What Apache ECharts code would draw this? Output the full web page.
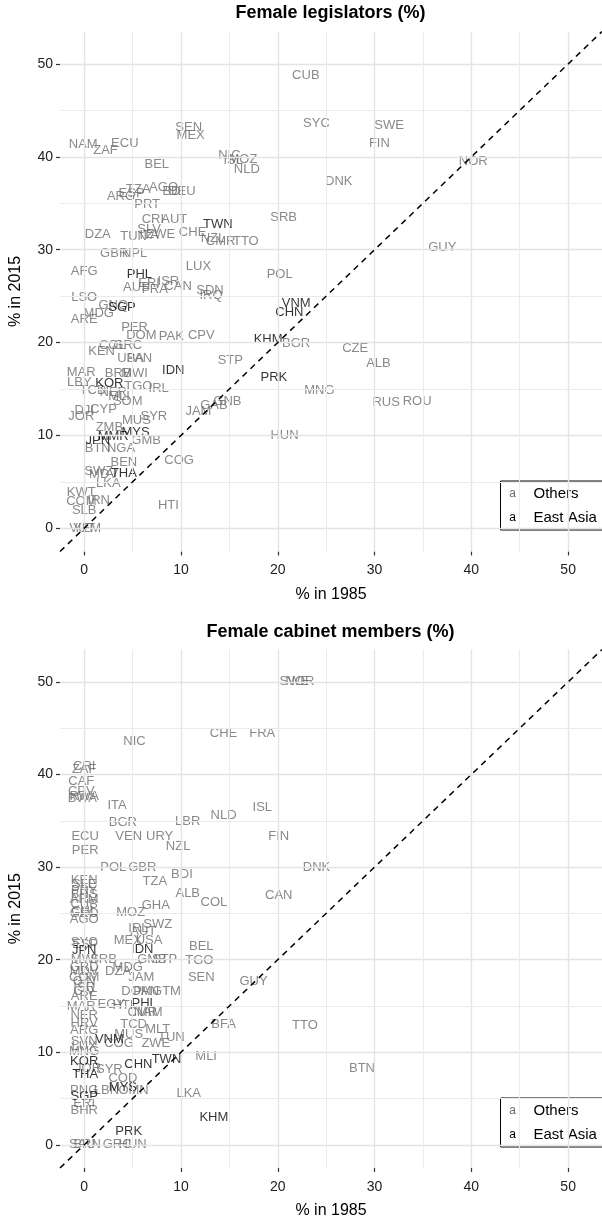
<!DOCTYPE html>
<html>
<head>
<meta charset="utf-8">
<script src="https://cdn.jsdelivr.net/npm/echarts@6.0.0/dist/echarts.min.js"></script>
<style>
  html, body { margin: 0; padding: 0; background: #fff; }
  #chart { width: 602px; height: 1221px; }
</style>
</head>
<body>
<div id="chart"></div>
<script>
// [code, % in 1985, % in 2015]
const legislatorsOthers = [
  ['CUB', 22.9, 48.8], ['SYC', 24.0, 43.6], ['SWE', 31.5, 43.4], ['FIN', 30.5, 41.5],
  ['NOR', 40.2, 39.5], ['DNK', 26.3, 37.4], ['SEN', 10.8, 43.2], ['MEX', 11.0, 42.3],
  ['NAM', -0.1, 41.3], ['ZAF', 2.2, 40.7], ['ECU', 4.2, 41.5], ['BEL', 7.5, 39.2],
  ['NIC', 15.0, 40.2], ['ISL', 15.4, 39.6], ['MOZ', 16.4, 39.7], ['NLD', 16.8, 38.7],
  ['TZA', 5.6, 36.5], ['AGO', 8.2, 36.7], ['BDI', 9.2, 36.3], ['DEU', 10.1, 36.3],
  ['ARG', 3.8, 35.7], ['ESP', 4.9, 36.1], ['PRT', 6.5, 34.9], ['CRI', 7.1, 33.3],
  ['AUT', 9.3, 33.3], ['SLV', 6.7, 32.2], ['DZA', 1.4, 31.6], ['TUN', 5.1, 31.4],
  ['ITA', 6.7, 31.5], ['ZWE', 7.9, 31.6], ['CHE', 11.2, 31.9], ['NZL', 13.3, 31.2],
  ['CMR', 14.1, 30.9], ['TTO', 16.7, 30.9], ['SRB', 20.6, 33.5], ['GUY', 37.0, 30.3],
  ['GBR', 3.1, 29.6], ['NPL', 5.2, 29.6], ['LUX', 11.8, 28.2], ['POL', 20.2, 27.3],
  ['AFG', 0.0, 27.7], ['ISR', 8.7, 26.6], ['ERI', 6.7, 26.4], ['AUS', 5.4, 25.9],
  ['FRA', 7.3, 25.7], ['CAN', 9.7, 26.0], ['SDN', 13.0, 25.6], ['IRQ', 13.1, 25.1],
  ['LSO', 0.0, 24.9], ['GNQ', 3.0, 24.0], ['MDG', 1.5, 23.1], ['ARE', 0.0, 22.5],
  ['PER', 5.2, 21.6], ['DOM', 5.9, 20.8], ['PAK', 9.0, 20.7], ['CPV', 12.1, 20.8],
  ['BGR', 21.9, 19.9], ['CZE', 28.0, 19.4], ['ALB', 30.4, 17.8], ['STP', 15.1, 18.1],
  ['MNG', 24.3, 14.8], ['RUS', 31.2, 13.6], ['ROU', 34.4, 13.7], ['GNB', 14.8, 13.7],
  ['GAB', 13.4, 13.2], ['JAM', 11.8, 12.6], ['HUN', 20.7, 10.0], ['COL', 2.9, 19.7],
  ['GRC', 4.5, 19.7], ['KEN', 1.8, 19.0], ['USA', 4.8, 18.3], ['PAN', 5.7, 18.3],
  ['MAR', -0.3, 16.8], ['BRB', 3.5, 16.7], ['MWI', 5.2, 16.7], ['LBY', -0.5, 15.7],
  ['TGO', 5.6, 15.3], ['IRL', 7.7, 15.1], ['TCD', 0.9, 14.9], ['NER', 3.0, 14.6],
  ['MLI', 3.6, 14.2], ['SOM', 4.5, 13.7], ['DJI', 0.0, 12.7], ['CYP', 2.0, 12.8],
  ['JOR', -0.3, 12.0], ['SYR', 7.2, 12.1], ['MUS', 5.4, 11.6], ['ZMB', 2.6, 10.9],
  ['BTN', 1.4, 8.6], ['NGA', 3.8, 8.6], ['GMB', 6.4, 9.5], ['BEN', 4.1, 7.1],
  ['COG', 9.8, 7.3], ['SWZ', 1.5, 6.1], ['MDV', 2.0, 5.8], ['LKA', 2.5, 4.8],
  ['KWT', -0.3, 3.9], ['COM', -0.3, 2.9], ['IRN', 1.5, 3.0], ['SLB', 0.0, 1.9],
  ['HTI', 8.7, 2.5], ['VUT', -0.2, 0.0], ['YEM', 0.3, 0.0]
];
const legislatorsEastAsia = [
  ['TWN', 13.8, 32.7], ['PHL', 5.7, 27.3], ['SGP', 3.9, 23.8], ['VNM', 21.9, 24.2],
  ['CHN', 21.2, 23.3], ['KHM', 19.0, 20.3], ['PRK', 19.6, 16.3], ['IDN', 9.2, 17.0],
  ['KOR', 2.6, 15.6], ['MYS', 5.3, 10.3], ['MMR', 3.0, 9.9], ['JPN', 1.4, 9.5],
  ['THA', 4.1, 5.9]
];
const cabinetOthers = [
  ['SWE', 21.7, 50.0], ['NOR', 22.3, 50.0], ['NIC', 5.2, 43.6], ['CHE', 14.4, 44.4],
  ['FRA', 18.4, 44.4], ['CRI', 0.0, 40.9], ['ZAF', 0.0, 40.5], ['CAF', -0.3, 39.2],
  ['CPV', -0.3, 38.2], ['RWA', 0.0, 37.6], ['BWA', -0.2, 37.4], ['ITA', 3.4, 36.7],
  ['BGR', 4.0, 34.8], ['LBR', 10.7, 34.9], ['NLD', 14.4, 35.6], ['ISL', 18.4, 36.4],
  ['FIN', 20.1, 33.3], ['ECU', 0.1, 33.3], ['VEN', 4.6, 33.3], ['URY', 7.8, 33.3],
  ['NZL', 9.7, 32.2], ['PER', 0.1, 31.8], ['DNK', 24.0, 30.0], ['POL', 3.0, 30.0],
  ['GBR', 6.0, 30.0], ['TZA', 7.3, 28.5], ['BDI', 10.1, 29.2], ['ALB', 10.7, 27.2],
  ['COL', 13.4, 26.2], ['CAN', 20.1, 26.9], ['GHA', 7.4, 25.9], ['MOZ', 4.8, 25.1],
  ['KEN', 0.0, 28.6], ['SLE', 0.0, 28.1], ['PRY', 0.0, 27.5], ['BHS', 0.0, 27.0],
  ['ARM', 0.0, 26.5], ['CUB', 0.0, 26.0], ['CHL', 0.0, 25.2], ['GEO', 0.0, 25.0],
  ['AGO', 0.0, 24.3], ['SWZ', 7.6, 23.8], ['IRL', 5.6, 23.4], ['AUT', 6.1, 23.0],
  ['MEX', 4.5, 22.1], ['USA', 6.7, 22.1], ['BEL', 12.1, 21.4], ['TGO', 11.9, 19.9],
  ['SEN', 12.1, 18.1], ['GUY', 17.5, 17.6], ['GMB', 7.0, 20.0], ['STP', 8.3, 20.0],
  ['SYC', 0.0, 21.9], ['ESP', 0.1, 21.7], ['MWI', 0.0, 20.0], ['SRB', 2.0, 20.0],
  ['MDG', 4.5, 19.2], ['DZA', 3.5, 18.7], ['JAM', 5.9, 18.1], ['GRD', 0.0, 19.2],
  ['MDV', 0.0, 18.7], ['COM', 0.0, 18.1], ['GIN', 0.0, 17.6], ['ISR', 0.0, 17.0],
  ['CIV', 0.0, 16.6], ['DOM', 5.4, 16.6], ['PAN', 6.4, 16.6], ['GTM', 8.5, 16.6],
  ['ARE', 0.0, 16.0], ['EGY', 2.8, 15.2], ['HTI', 4.0, 15.1], ['CMR', 6.0, 14.3],
  ['NAM', 6.6, 14.3], ['MAR', -0.3, 15.0], ['NER', 0.0, 14.0], ['HRV', 0.0, 13.1],
  ['ARG', 0.0, 12.4], ['SVN', 0.0, 11.2], ['LUX', 0.0, 10.6], ['MNG', 0.0, 10.1],
  ['TCD', 5.1, 13.0], ['MLT', 7.6, 12.5], ['MUS', 4.6, 11.9], ['TUN', 9.0, 11.6],
  ['ZWE', 7.4, 11.0], ['COG', 3.6, 11.0], ['BFA', 14.4, 13.0], ['TTO', 22.8, 12.9],
  ['MLI', 12.6, 9.6], ['BTN', 28.7, 8.3], ['JOR', 0.4, 8.3], ['SYR', 2.6, 8.1],
  ['COD', 4.0, 7.2], ['LBN', 2.3, 5.9], ['OMN', 5.1, 5.9], ['PNG', 0.0, 5.9],
  ['ERI', 0.0, 4.5], ['BHR', 0.0, 3.7], ['LKA', 10.8, 5.6], ['SAU', -0.2, 0.0],
  ['BRN', 0.3, 0.0], ['GRC', 3.4, 0.0], ['HUN', 5.0, 0.0]
];
const cabinetEastAsia = [
  ['JPN', 0.0, 21.0], ['IDN', 6.0, 21.1], ['PHL', 6.2, 15.3], ['VNM', 2.6, 11.4],
  ['TWN', 8.5, 9.2], ['CHN', 5.6, 8.7], ['KOR', 0.0, 9.0], ['THA', 0.1, 7.6],
  ['MYS', 4.0, 6.2], ['SGP', 0.0, 5.2], ['KHM', 13.4, 3.0], ['PRK', 4.6, 1.4]
];
const titles = ['Female legislators (%)', 'Female cabinet members (%)'];
const tickValues = [0, 10, 20, 30, 40, 50];
const minorValues = [5, 15, 25, 35, 45];
const axisMin = -2.5;
const axisMax = 53.5;

const FONT = '"Liberation Sans", Arial, Helvetica, sans-serif';
const GREY = '#6b6b6b';

const chart = echarts.init(document.getElementById('chart'), null, { renderer: 'canvas' });

const grids = [
  { left: 59, top: 31.5, width: 543, height: 520 },
  { left: 59, top: 649.5, width: 543, height: 518.5 }
];

function makeAxis(i, isX) {
  return {
    type: 'value',
    gridIndex: i,
    min: axisMin,
    max: axisMax,
    name: isX ? '% in 1985' : '% in 2015',
    nameLocation: 'middle',
    nameGap: isX ? 35 : 36,
    nameTextStyle: { fontSize: 16, color: '#000', fontFamily: FONT },
    axisLine: { show: true, onZero: false, lineStyle: { color: 'rgba(0,0,0,0)' } },
    axisTick: {
      show: true, length: 4, inside: false, customValues: tickValues,
      lineStyle: { color: '#333', width: 1.2 }
    },
    axisLabel: {
      customValues: tickValues, margin: isX ? 12 : 7,
      fontSize: 14, color: '#222', fontFamily: FONT
    },
    splitLine: { show: false }
  };
}

function gridLines() {
  const data = [];
  tickValues.forEach(v => {
    data.push({ xAxis: v, lineStyle: { color: '#e4e4e4', width: 1.4, type: 'solid' } });
    data.push({ yAxis: v, lineStyle: { color: '#e4e4e4', width: 1.4, type: 'solid' } });
  });
  minorValues.forEach(v => {
    data.push({ xAxis: v, lineStyle: { color: '#ebebeb', width: 1, type: 'solid' } });
    data.push({ yAxis: v, lineStyle: { color: '#ebebeb', width: 1, type: 'solid' } });
  });
  return data;
}

function textSeries(i, rows, color, z) {
  return {
    type: 'scatter',
    xAxisIndex: i,
    yAxisIndex: i,
    z: z,
    symbolSize: 1,
    itemStyle: { color: 'rgba(0,0,0,0)' },
    silent: true,
    animation: false,
    label: {
      show: true,
      position: 'inside',
      formatter: '{b}',
      color: color,
      fontSize: 13,
      fontFamily: FONT
    },
    emphasis: { disabled: true },
    data: rows.map(r => ({ name: r[0], value: [r[1], r[2]] }))
  };
}

const series = [];
[0, 1].forEach(i => {
  // grid lines and diagonal
  series.push({
    type: 'scatter', xAxisIndex: i, yAxisIndex: i, z: 1, data: [[axisMin, axisMin]],
    symbolSize: 0, silent: true, animation: false,
    markLine: {
      silent: true, animation: false, symbol: ['none', 'none'],
      label: { show: false }, emphasis: { disabled: true },
      data: gridLines()
    }
  });
  series.push({
    type: 'scatter', xAxisIndex: i, yAxisIndex: i, z: 2, data: [[axisMin, axisMin]],
    symbolSize: 0, silent: true, animation: false,
    markLine: {
      silent: true, animation: false, symbol: ['none', 'none'],
      label: { show: false }, emphasis: { disabled: true },
      lineStyle: { color: '#000', width: 1.5, type: [6, 5] },
      data: [[{ coord: [axisMin, axisMin] }, { coord: [axisMax, axisMax] }]]
    }
  });
});
series.push(textSeries(0, legislatorsOthers, GREY, 3));
series.push(textSeries(0, legislatorsEastAsia, '#000', 4));
series.push(textSeries(1, cabinetOthers, GREY, 3));
series.push(textSeries(1, cabinetEastAsia, '#000', 4));

function legendBox(top) {
  return {
    type: 'group', left: 500, top: top,
    children: [
      { type: 'rect', shape: { x: 0, y: 0, width: 104, height: 49 },
        style: { fill: '#fff', stroke: '#000', lineWidth: 1 } },
      { type: 'text', x: 12, y: 13, style: { text: 'a', fill: GREY, font: '12px ' + FONT, textAlign: 'center', textVerticalAlign: 'middle' } },
      { type: 'text', x: 33, y: 13, style: { text: 'Others', fill: '#000', font: '15px ' + FONT, textVerticalAlign: 'middle' } },
      { type: 'text', x: 12, y: 37, style: { text: 'a', fill: '#000', font: '12px ' + FONT, textAlign: 'center', textVerticalAlign: 'middle' } },
      { type: 'text', x: 33, y: 37, style: { text: 'East Asia', fill: '#000', font: '15px ' + FONT, textVerticalAlign: 'middle' } }
    ]
  };
}

chart.setOption({
  animation: false,
  backgroundColor: '#fff',
  grid: grids,
  xAxis: [makeAxis(0, true), makeAxis(1, true)],
  yAxis: [makeAxis(0, false), makeAxis(1, false)],
  series: series,
  graphic: [
    { type: 'text', x: 330.5, y: 13, style: { text: titles[0], fill: '#000', font: 'bold 18px ' + FONT, textAlign: 'center', textVerticalAlign: 'middle' } },
    { type: 'text', x: 330.5, y: 632, style: { text: titles[1], fill: '#000', font: 'bold 18px ' + FONT, textAlign: 'center', textVerticalAlign: 'middle' } },
    legendBox(480.5),
    legendBox(1097.5)
  ]
});
</script>
</body>
</html>
